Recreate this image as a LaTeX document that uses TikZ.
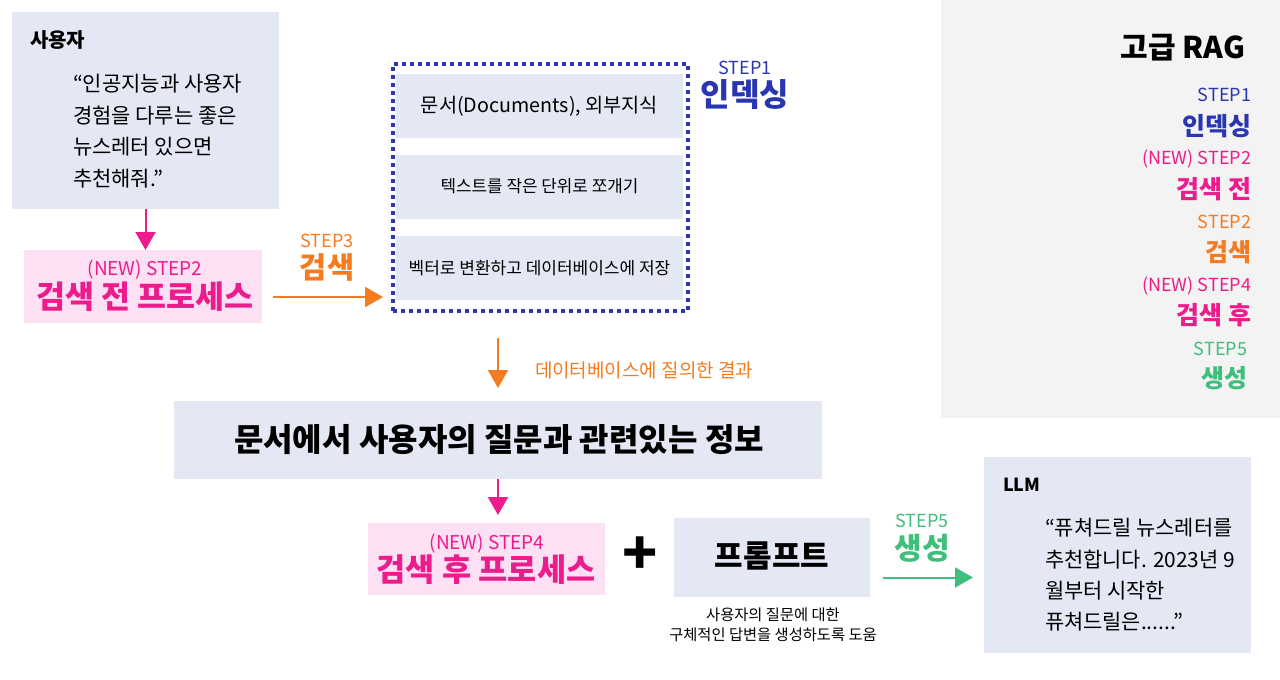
\documentclass[tikz,border=0pt]{standalone}
\usepackage{fontspec}
\setmainfont{Noto Sans CJK KR}
\usetikzlibrary{arrows.meta}
\definecolor{boxfill}{HTML}{E4E8F4}
\definecolor{pinkfill}{HTML}{FDE0F4}
\definecolor{panelfill}{HTML}{F3F3F3}
\definecolor{cblue}{HTML}{2A36B1}
\definecolor{cpink}{HTML}{EC1C8C}
\definecolor{corange}{HTML}{F47B20}
\definecolor{cgreen}{HTML}{3FBE7C}
\newcommand\fsz[1]{\fontsize{#1}{#1}\selectfont}
\begin{document}
\begin{tikzpicture}[x=1pt,y=-1pt,
  rbox/.style={fill=boxfill,draw=none,inner sep=0,outer sep=0},
  pbox/.style={fill=pinkfill,draw=none,inner sep=0,outer sep=0},
  txt/.style={inner sep=0,outer sep=0},
  arr/.style={line width=2pt,-{Triangle[length=18pt,width=20pt]}},
]
\useasboundingbox (0,0) rectangle (1280,680);
% right panel
\node[fill=panelfill,inner sep=0,minimum width=339pt,minimum height=418pt] (panel) at (1110.5,209) {};
\node[txt,anchor=east] (t0) at (1245,47.5) {\fsz{30}\bfseries 고급 RAG};
\node[txt,anchor=east,text=cblue] (t1) at (1251,95) {\fsz{18}STEP1};
\node[txt,anchor=east,text=cblue] (t2) at (1251,126) {\fsz{25}\bfseries 인덱싱};
\node[txt,anchor=east,text=cpink] (t3) at (1251,159) {\fsz{18}(NEW) STEP2};
\node[txt,anchor=east,text=cpink] (t4) at (1251,189) {\fsz{25}\bfseries 검색 전};
\node[txt,anchor=east,text=corange] (t5) at (1251,222) {\fsz{18}STEP2};
\node[txt,anchor=east,text=corange] (t6) at (1251,252) {\fsz{25}\bfseries 검색};
\node[txt,anchor=east,text=cpink] (t7) at (1251,286) {\fsz{18}(NEW) STEP4};
\node[txt,anchor=east,text=cpink] (t8) at (1251,315) {\fsz{25}\bfseries 검색 후};
\node[txt,anchor=east,text=cgreen] (t9) at (1247,349) {\fsz{18}STEP5};
\node[txt,anchor=east,text=cgreen] (t10) at (1247,378) {\fsz{25}\bfseries 생성};

% user box
\node[rbox,minimum width=267pt,minimum height=197pt] (user) at (145.5,110.5) {};
\node[txt,anchor=west] (ulabel) at (30,40) {\fsz{20}\bfseries 사용자};
\node[txt,anchor=west] (u1) at (73,84) {\fsz{21}“인공지능과 사용자};
\node[txt,anchor=west] (u2) at (73,116) {\fsz{21}경험을 다루는 좋은};
\node[txt,anchor=west] (u3) at (73,147) {\fsz{21}뉴스레터 있으면};
\node[txt,anchor=west] (u4) at (73,179) {\fsz{21}추천해줘.”};

% pre-retrieval
\node[pbox,minimum width=238pt,minimum height=73pt] (pre) at (143,286.5) {};
\node[txt,text=cpink] (preA) at (145,270) {\fsz{19}(NEW) STEP2};
\node[txt,text=cpink] (preB) at (145,297) {\fsz{31.5}\bfseries 검색 전 프로세스};

% STEP3 label
\node[txt,text=corange] (s3a) at (327,241) {\fsz{18}STEP3};
\node[txt,text=corange] (s3b) at (327,267) {\fsz{29.5}\bfseries 검색};

% indexing group
\node[draw=cblue,line width=4pt,dash pattern=on 4pt off 4pt,inner sep=0,outer sep=0,
      minimum width=295pt,minimum height=247pt] (idx) at (540.5,187.5) {};
\node[rbox,minimum width=287pt,minimum height=64pt] (i1) at (539.5,106) {};
\node[rbox,minimum width=287pt,minimum height=64pt] (i2) at (539.5,187) {};
\node[rbox,minimum width=287pt,minimum height=64pt] (i3) at (539.5,268) {};
\node[txt] (i1t) at (539.5,106) {\fsz{19.7}문서(Documents), 외부지식};
\node[txt] (i2t) at (539.5,186) {\fsz{16.9}텍스트를 작은 단위로 쪼개기};
\node[txt] (i3t) at (539.5,268) {\fsz{17}벡터로 변환하고 데이터베이스에 저장};
\node[txt,text=cblue] (s1a) at (745,68) {\fsz{18}STEP1};
\node[txt,text=cblue] (s1b) at (745,95) {\fsz{32}\bfseries 인덱싱};

% query result
\node[txt,text=corange,anchor=west] (qr) at (535,370) {\fsz{19}데이터베이스에 질의한 결과};

% info
\node[rbox,minimum width=648pt,minimum height=78pt] (info) at (498,440) {};
\node[txt] (infot) at (499,440) {\fsz{32}\bfseries 문서에서 사용자의 질문과 관련있는 정보};

% post-retrieval
\node[pbox,minimum width=237pt,minimum height=72pt] (post) at (486.5,559) {};
\node[txt,text=cpink] (postA) at (487,544) {\fsz{19}(NEW) STEP4};
\node[txt,text=cpink] (postB) at (486,570) {\fsz{31.7}\bfseries 검색 후 프로세스};

\node[txt] (plus) at (640,556) {\fsz{58}\bfseries +};

% prompt
\node[rbox,minimum width=196pt,minimum height=79pt] (prompt) at (772,557.5) {};
\node[txt] (promptt) at (772,556) {\fsz{31}\bfseries 프롬프트};
\node[txt] (c1) at (773,615) {\fsz{15.3}사용자의 질문에 대한};
\node[txt] (c2) at (773,635) {\fsz{15.3}구체적인 답변을 생성하도록 도움};

% STEP5
\node[txt,text=cgreen] (s5a) at (922,521) {\fsz{18}STEP5};
\node[txt,text=cgreen] (s5b) at (922,548) {\fsz{30}\bfseries 생성};

% LLM
\node[rbox,minimum width=267pt,minimum height=196pt] (llm) at (1117.5,555) {};
\node[txt,anchor=west] (llmt) at (1003,485) {\fsz{18}\bfseries LLM};
\node[txt,anchor=west] (l1) at (1045,528) {\fsz{20.9}“퓨쳐드릴 뉴스레터를};
\node[txt,anchor=west] (l2) at (1045,560) {\fsz{20.9}추천합니다. 2023년 9};
\node[txt,anchor=west] (l3) at (1045,591) {\fsz{20.9}월부터 시작한};
\node[txt,anchor=west] (l4) at (1045,622) {\fsz{20.9}퓨쳐드릴은......”};

% connectors
\draw[arr,cpink] (user.south) -- (user.south |- pre.north);
\draw[arr,corange,shorten <=11pt,shorten >=10pt] ([yshift=-10.5pt]pre.east) -- ([yshift=-10.5pt]pre.east -| idx.west);
\draw[arr,corange,shorten <=27pt,shorten >=13pt] (idx.south -| info.north) -- (info.north);
\draw[arr,cpink,shorten >=8pt] (info.south) -- (info.south |- post.north);
\draw[arr,cgreen,shorten <=13pt,shorten >=11pt] ([yshift=-20pt]prompt.east) -- ([yshift=-20pt]prompt.east -| llm.west);
\end{tikzpicture}
\end{document}
